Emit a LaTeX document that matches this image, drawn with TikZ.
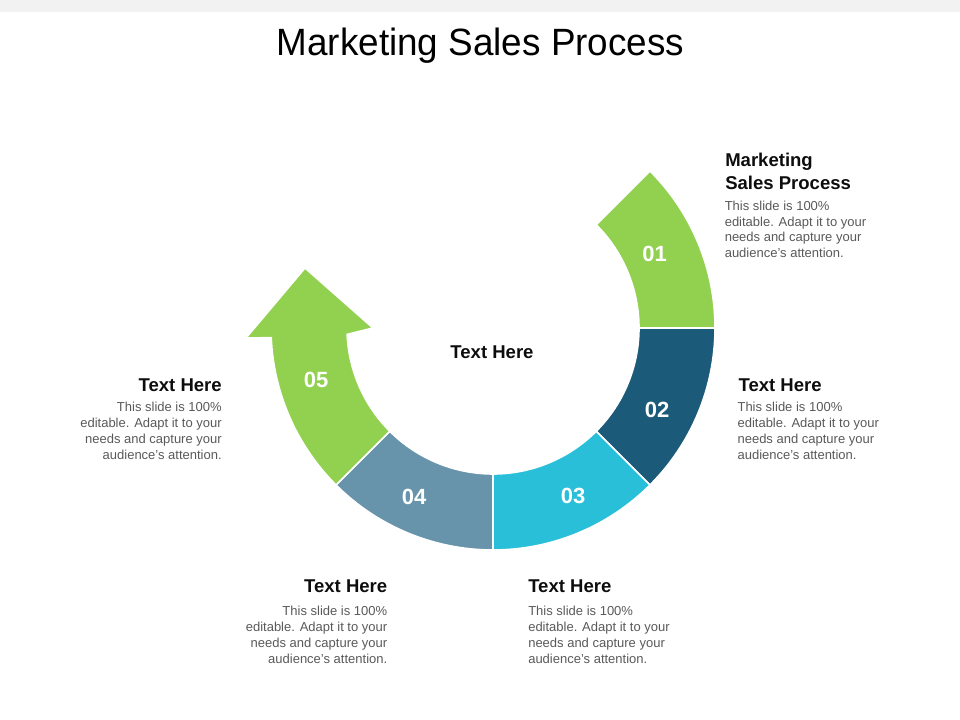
\documentclass[tikz,border=0pt]{standalone}
\usepackage{fontspec}
\setmainfont{Liberation Sans}
\newfontfamily\titlefont[FakeStretch=0.97]{Liberation Sans}
\usetikzlibrary{calc}
\definecolor{cgreen}{HTML}{92D050}
\definecolor{cdark}{HTML}{1B5A78}
\definecolor{ccyan}{HTML}{29BFD9}
\definecolor{cslate}{HTML}{6794AB}
\definecolor{cgray}{HTML}{595959}
\definecolor{cband}{HTML}{F2F2F2}
\definecolor{chead}{HTML}{0D0D0D}
\begin{document}
\begin{tikzpicture}[x=0.75pt,y=0.75pt,
  seg/.style={draw=white, line width=1.2pt, line join=miter},
  num/.style={text=white, font=\fontsize{16.5}{18}\selectfont\bfseries, inner sep=0pt},
  headtext/.style={font=\fontsize{13.9}{17}\selectfont\bfseries, text=chead, inner sep=0pt},
  bodytext/.style={font=\fontsize{9.75}{12}\selectfont, text=cgray, inner sep=0pt}]
\useasboundingbox (0,0) rectangle (960,720);
\fill[cband] (0,708) rectangle (960,720);
\coordinate (C) at (493,392);
\def\Rin{146}
\def\Rout{222}
% title
\node[font=\titlefont\fontsize{28.5}{32}\selectfont, anchor=base, inner sep=0pt] (title) at (480.5,664.3) {Marketing Sales Process};
% segment 01
\path[seg, fill=cgreen] ($(C)+(0:\Rout)$) arc[start angle=0,end angle=45,radius=\Rout]
  -- ($(C)+(45:\Rin)$) arc[start angle=45,end angle=0,radius=\Rin] -- cycle;
% segment 02
\path[seg, fill=cdark] ($(C)+(-45:\Rout)$) arc[start angle=-45,end angle=0,radius=\Rout]
  -- ($(C)+(0:\Rin)$) arc[start angle=0,end angle=-45,radius=\Rin] -- cycle;
% segment 03
\path[seg, fill=ccyan] ($(C)+(-90:\Rout)$) arc[start angle=-90,end angle=-45,radius=\Rout]
  -- ($(C)+(-45:\Rin)$) arc[start angle=-45,end angle=-90,radius=\Rin] -- cycle;
% segment 04
\path[seg, fill=cslate] ($(C)+(-135:\Rout)$) arc[start angle=-135,end angle=-90,radius=\Rout]
  -- ($(C)+(-90:\Rin)$) arc[start angle=-90,end angle=-135,radius=\Rin] -- cycle;
% segment 05 with arrow head
\path[seg, fill=cgreen] ($(C)+(225:\Rout)$) arc[start angle=225,end angle=182.5,radius=\Rout]
  -- (246,382) -- (305,452) -- (373,392)
  -- ($(C)+(182.5:\Rin)$) arc[start angle=182.5,end angle=225,radius=\Rin] -- cycle;
% numbers
\node[num] (n01) at (654.5,466) {01};
\node[num] (n02) at (657,310) {02};
\node[num] (n03) at (573,224) {03};
\node[num] (n04) at (414,223.5) {04};
\node[num] (n05) at (316,340) {05};
% centre label
\node[headtext, anchor=base] (ctr) at (492,361) {Text Here};
% top right block
\node[headtext, anchor=north west, align=left] (h1) at (725,572) {\rule{0pt}{14pt}Marketing\\Sales Process};
\node[bodytext, anchor=north west, align=left, font=\fontsize{9.75}{11.8}\selectfont] (b1) at (724.5,523.3) {\rule{0pt}{10pt}This slide is 100\%\\editable. Adapt it to your\\needs and capture your\\audience's attention.};
% right block
\node[headtext, anchor=base west] (h2) at (738.3,328.3) {Text Here};
\node[bodytext, anchor=north west, align=left] (b2) at (737.3,321.6) {\rule{0pt}{10pt}This slide is 100\%\\editable. Adapt it to your\\needs and capture your\\audience's attention.};
% left block
\node[headtext, anchor=base east] (h5) at (222,328.3) {Text Here};
\node[bodytext, anchor=north east, align=right] (b5) at (222,321.6) {\rule{0pt}{10pt}This slide is 100\%\\editable. Adapt it to your\\needs and capture your\\audience's attention.};
% bottom left block
\node[headtext, anchor=base east] (h4) at (387.5,127.3) {Text Here};
\node[bodytext, anchor=north east, align=right] (b4) at (387.5,118.3) {\rule{0pt}{10pt}This slide is 100\%\\editable. Adapt it to your\\needs and capture your\\audience's attention.};
% bottom right block
\node[headtext, anchor=base west] (h3) at (528,127.3) {Text Here};
\node[bodytext, anchor=north west, align=left] (b3) at (528,118.3) {\rule{0pt}{10pt}This slide is 100\%\\editable. Adapt it to your\\needs and capture your\\audience's attention.};
\end{tikzpicture}
\end{document}
